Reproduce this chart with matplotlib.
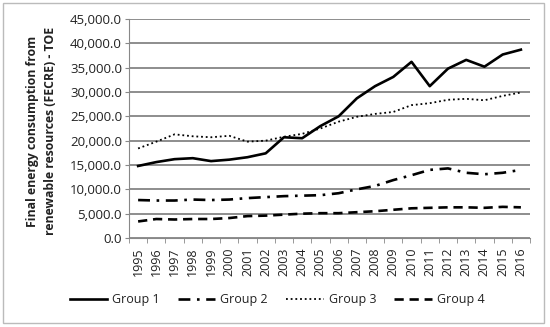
import matplotlib
matplotlib.use("Agg")
import matplotlib.pyplot as plt
from matplotlib.ticker import FuncFormatter, FixedLocator
import numpy as np

years = [str(y) for y in range(1995, 2017)]
group1 = [14800, 15600, 16200, 16400, 15800, 16100, 16600, 17400, 20700, 20500, 23000, 25000,
          28700, 31200, 33100, 36200, 31200, 34800, 36600, 35200, 37700, 38700]
group2 = [7800, 7700, 7700, 7900, 7800, 7900, 8200, 8400, 8600, 8700, 8800, 9200,
          10000, 10700, 11900, 12900, 14000, 14300, 13400, 13100, 13400, 14000]
group3 = [18400, 19800, 21300, 20900, 20700, 21000, 19800, 20000, 20800, 21400, 22500, 23900,
          24900, 25500, 25900, 27300, 27700, 28400, 28600, 28300, 29200, 29900]
group4 = [3400, 3900, 3800, 3900, 3900, 4100, 4500, 4600, 4800, 5000, 5100, 5100,
          5300, 5500, 5800, 6100, 6200, 6300, 6300, 6200, 6400, 6300]
labels = ["Group 1", "Group 2", "Group 3", "Group 4"]
yticks = list(range(0, 45001, 5000))

plt.rcParams['font.family'] = ['Open Sans', 'DejaVu Sans']
fig = plt.figure(figsize=(5.5, 3.27), dpi=100)
ax = fig.add_axes([129/550, 1-238/327, (530-129)/550, (238-19)/327])

x = np.arange(len(years))
ax.plot(x, group1, color='black', lw=1.9, ls='-', label=labels[0])
ax.plot(x, group2, color='black', lw=1.9, ls=(0, (4.5, 2.5, 1, 2.5)), label=labels[1])
ax.plot(x, group3, color='black', lw=1.3, ls=(0, (1, 1.6)), label=labels[2])
ax.plot(x, group4, color='black', lw=1.9, ls=(0, (3.5, 2.2)), label=labels[3])

ax.set_xlim(-0.5, len(years) - 0.5)
ax.set_ylim(0, 45000)
ax.set_yticks(yticks)
ax.yaxis.set_major_formatter(FuncFormatter(lambda v, p: f"{v:,.1f}"))
ax.set_xticks(x)
ax.set_xticklabels(years, rotation=90, fontsize=9)
ax.xaxis.set_minor_locator(FixedLocator(np.arange(-0.5, len(years), 1)))
ax.tick_params(axis='x', which='major', length=0, pad=7, colors='#222222')
ax.tick_params(axis='x', which='minor', length=3.5, color='#888888')
ax.tick_params(axis='y', labelsize=9.5, length=3, color='#888888', pad=2, labelcolor='#222222')
ax.grid(axis='y', color='#7a7a7a', lw=1.2)
ax.set_axisbelow(True)
for s in ['top', 'right']:
    ax.spines[s].set_visible(False)
for s in ['left', 'bottom']:
    ax.spines[s].set_color('#888888')

ax.set_ylabel("Final energy consumption from\nrenewable resources (FECRE) - TOE",
              fontsize=8.8, fontweight='bold', linespacing=1.45, color='#222222')
ax.yaxis.set_label_coords((57 - 129) / 401, (238 - 131) / 219)

leg = ax.legend(loc='center', ncol=4, frameon=False,
                fontsize=9, handlelength=3.0, columnspacing=1.45, handletextpad=0.4,
                bbox_to_anchor=(277/550, 1-300/327), bbox_transform=fig.transFigure)
for t in leg.get_texts():
    t.set_color('#222222')

fig.patches.append(plt.Rectangle((3/550, 4/327), 541/550, 320/327, transform=fig.transFigure,
                                 fill=False, edgecolor='#bbbbbb', lw=1))
fig.savefig("out.png", dpi=100)
